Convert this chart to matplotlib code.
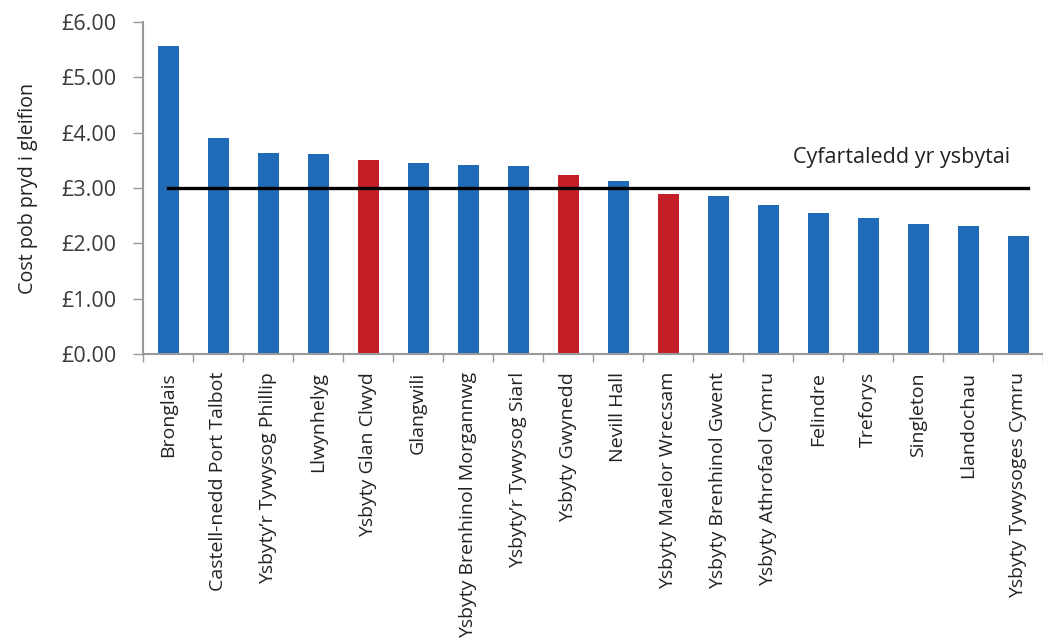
import matplotlib
matplotlib.use("Agg")
import matplotlib.pyplot as plt
from matplotlib.ticker import FixedLocator, FuncFormatter

hospitals = [
    "Bronglais", "Castell-nedd Port Talbot", "Ysbyty\u2019r Tywysog Phillip", "Llwynhelyg",
    "Ysbyty Glan Clwyd", "Glangwili", "Ysbyty Brenhinol Morgannwg", "Ysbyty\u2019r Tywysog Siarl",
    "Ysbyty Gwynedd", "Nevill Hall", "Ysbyty Maelor Wrecsam", "Ysbyty Brenhinol Gwent",
    "Ysbyty Athrofaol Cymru", "Felindre", "Treforys", "Singleton", "Llandochau",
    "Ysbyty Tywysoges Cymru",
]
cost = [5.57, 3.91, 3.63, 3.62, 3.51, 3.45, 3.42, 3.40, 3.24, 3.13, 2.89, 2.86,
        2.69, 2.55, 2.46, 2.35, 2.31, 2.13]
highlight = [False, False, False, False, True, False, False, False, True, False, True,
             False, False, False, False, False, False, False]
average = 3.00
average_label = "Cyfartaledd yr ysbytai"
y_label = "Cost pob pryd i gleifion"
y_ticks = [0, 1, 2, 3, 4, 5, 6]

plt.rcParams['font.family'] = ['Open Sans', 'DejaVu Sans']

blue = "#1f6bb7"
red = "#c41f27"

fig = plt.figure(figsize=(10.43, 6.38), dpi=100)
ax = fig.add_axes([143/1043, 1 - 354/638, 1 - 143/1043, (354 - 22)/638])

x = list(range(len(hospitals)))
colors = [red if h else blue for h in highlight]
ax.bar(x, cost, width=0.42, color=colors, edgecolor="none", zorder=2)

ax.plot([0, 17.2], [average, average], color="black", lw=2.4, zorder=3)
ax.text(16.84, 3.56, average_label, ha="right", va="center", fontsize=15.5, color="#222222")

ax.set_xlim(-0.5, 17.5)
ax.set_ylim(0, 6)

ax.yaxis.set_major_locator(FixedLocator(y_ticks))
ax.yaxis.set_major_formatter(FuncFormatter(lambda v, p: f"\u00a3{v:.2f}"))
ax.tick_params(axis="y", direction="out", length=7, width=1, color="#999999",
               labelsize=15.5, labelcolor="#3a3a3a", pad=12)

ax.set_xticks(x)
ax.set_xticklabels(hospitals, rotation=90, fontsize=14, color="#222222")
ax.tick_params(axis="x", which="major", length=0, pad=13)
ax.set_xticks([i - 0.5 for i in range(len(hospitals) + 1)], minor=True)
ax.tick_params(axis="x", which="minor", direction="out", length=6, width=1, color="#999999")

for s in ["top", "right"]:
    ax.spines[s].set_visible(False)
for s in ["left", "bottom"]:
    ax.spines[s].set_color("#999999")
    ax.spines[s].set_linewidth(1.5)

ax.set_ylabel(y_label, fontsize=14.2, color="#222222", labelpad=17)

fig.savefig("out.png", dpi=100)
